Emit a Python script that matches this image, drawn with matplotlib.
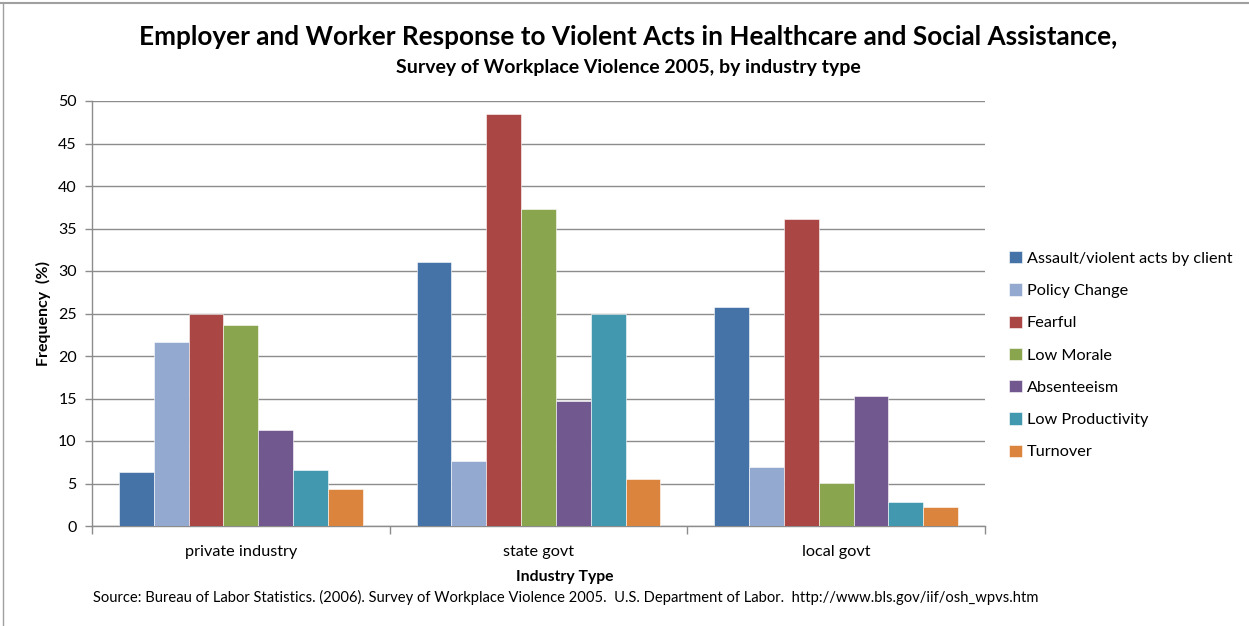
import matplotlib
matplotlib.use("Agg")
import matplotlib.pyplot as plt
import numpy as np
from matplotlib.lines import Line2D

categories = ["private industry", "state govt", "local govt"]
series_names = ["Assault/violent acts by client", "Policy Change", "Fearful",
                "Low Morale", "Absenteeism", "Low Productivity", "Turnover"]
assault = [6.4, 31.1, 25.8]
policy_change = [21.7, 7.7, 6.9]
fearful = [25.0, 48.5, 36.1]
low_morale = [23.6, 37.3, 5.1]
absenteeism = [11.3, 14.7, 15.3]
low_productivity = [6.6, 25.0, 2.8]
turnover = [4.3, 5.5, 2.2]
series_values = [assault, policy_change, fearful, low_morale, absenteeism,
                 low_productivity, turnover]
colors = ["#4572A7", "#93A9CF", "#AA4643", "#89A54E", "#71588F", "#4198AF", "#DB843D"]
yticks = [0, 5, 10, 15, 20, 25, 30, 35, 40, 45, 50]

plt.rcParams['font.family'] = ['Lato', 'DejaVu Sans']

W, H = 1249, 626
fig = plt.figure(figsize=(W / 100, H / 100), dpi=100)
ax = fig.add_axes([92 / W, (H - 526) / H, (985 - 92) / W, (526 - 101) / H])

n = len(series_names)
bw = 0.117
x = np.arange(len(categories))
for i, (name, vals, c) in enumerate(zip(series_names, series_values, colors)):
    offs = (i - (n - 1) / 2) * bw
    ax.bar(x + offs, vals, width=bw, color=c, label=name,
           edgecolor="white", linewidth=0.4, zorder=3)

ax.set_xlim(-0.5, 2.5)
ax.set_ylim(0, 50)
ax.set_yticks(yticks)
ax.yaxis.grid(True, color="#8c8c8c", linewidth=1.0, zorder=0)
ax.set_axisbelow(True)
for s in ["top", "right"]:
    ax.spines[s].set_visible(False)
for s in ["left", "bottom"]:
    ax.spines[s].set_color("#8c8c8c")
    ax.spines[s].set_linewidth(1.0)

ax.set_xticks(x)
ax.set_xticklabels(categories, fontsize=11.7)
ax.set_xticks([-0.5, 0.5, 1.5, 2.5], minor=True)
ax.tick_params(axis="x", which="major", length=0, pad=14, colors="black")
ax.tick_params(axis="x", which="minor", length=6, color="#8c8c8c", width=1)
ax.tick_params(axis="y", length=5, color="#8c8c8c", width=1, labelsize=11.5, pad=6)

fig.text(43 / W, 1 - 313 / H, "Frequency  (%)", rotation=90, fontsize=11.5,
         fontweight="bold", ha="center", va="center")
fig.text(565 / W, 1 - 577 / H, "Industry Type", fontsize=11.3, fontweight="bold",
         ha="center", va="center")
fig.text(566 / W, 1 - 597 / H,
         "Source: Bureau of Labor Statistics. (2006). Survey of Workplace Violence 2005.  U.S. Department of Labor.  http://www.bls.gov/iif/osh_wpvs.htm",
         fontsize=10.6, ha="center", va="center")

fig.text(628 / W, 1 - 37 / H,
         "Employer and Worker Response to Violent Acts in Healthcare and Social Assistance,",
         fontsize=18.8, fontweight="bold", ha="center", va="center")
fig.text(628 / W, 1 - 68 / H, "Survey of Workplace Violence 2005, by industry type",
         fontsize=14.0, fontweight="bold", ha="center", va="center")

fig.legend(loc="upper left", bbox_to_anchor=(1009 / W, 1 - 251 / H), frameon=False,
           fontsize=11.7, handlelength=0.8, handleheight=0.8, handletextpad=0.3,
           labelspacing=1.07, borderaxespad=0, borderpad=0)

fig.add_artist(Line2D([0, 1], [1 - 3 / H, 1 - 3 / H], color="#a0a0a0", lw=1.5,
                      transform=fig.transFigure))
fig.add_artist(Line2D([3 / W, 3 / W], [0, 1 - 3 / H], color="#a0a0a0", lw=1.0,
                      transform=fig.transFigure))

fig.savefig("out.png", dpi=100)
